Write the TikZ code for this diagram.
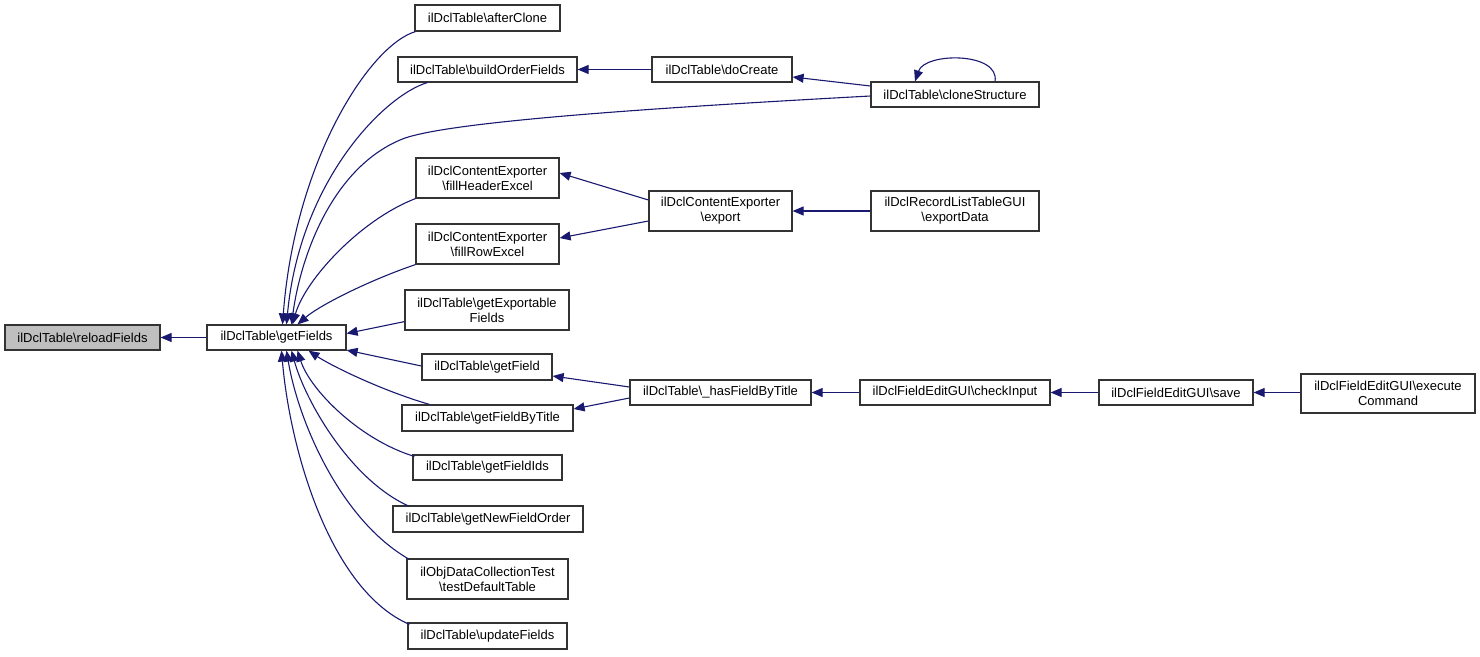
\documentclass[tikz,border=0pt]{standalone}
\usepackage{fontspec}
\setmainfont{Liberation Sans}
\usetikzlibrary{arrows.meta}
\definecolor{edgecol}{HTML}{191970}
\definecolor{hl}{HTML}{BFBFBF}
\begin{document}
\begin{tikzpicture}[x=1pt,y=-1pt,
  nbox/.style={draw=black!80,line width=1.2pt,inner sep=0pt,align=center,
    font=\fontsize{13}{15}\selectfont},
  edge/.style={draw=edgecol,line width=1.1pt,-{Triangle[length=11pt,width=9pt]}}]
\useasboundingbox (0,0) rectangle (1480,656);
\node[nbox,fill=hl,minimum width=155,minimum height=25] (reload) at (82.5,337.5) {ilDclTable\textbackslash reloadFields};
\node[nbox,minimum width=139,minimum height=25] (getFields) at (276.5,337.5) {ilDclTable\textbackslash getFields};
\node[nbox,minimum width=145,minimum height=26] (afterClone) at (487.5,18) {ilDclTable\textbackslash afterClone};
\node[nbox,minimum width=179,minimum height=25] (buildOrder) at (487.5,69.5) {ilDclTable\textbackslash buildOrderFields};
\node[nbox,minimum width=140,minimum height=25] (doCreate) at (722,69.5) {ilDclTable\textbackslash doCreate};
\node[nbox,minimum width=168,minimum height=25] (clone) at (955,94.5) {ilDclTable\textbackslash cloneStructure};
\node[nbox,minimum width=143,minimum height=40] (fillHeader) at (487.5,178) {ilDclContentExporter\\\textbackslash fillHeaderExcel};
\node[nbox,minimum width=143,minimum height=40] (export) at (720.5,211) {ilDclContentExporter\\\textbackslash export};
\node[nbox,minimum width=168,minimum height=40] (exportData) at (955,211) {ilDclRecordListTableGUI\\\textbackslash exportData};
\node[nbox,minimum width=143,minimum height=40] (fillRow) at (487.5,244) {ilDclContentExporter\\\textbackslash fillRowExcel};
\node[nbox,minimum width=164,minimum height=40] (exportable) at (487,310) {ilDclTable\textbackslash getExportable\\Fields};
\node[nbox,minimum width=130,minimum height=26] (getField) at (487,367) {ilDclTable\textbackslash getField};
\node[nbox,minimum width=181,minimum height=25] (hasField) at (720.5,392.5) {ilDclTable\textbackslash \_hasFieldByTitle};
\node[nbox,minimum width=190,minimum height=25] (checkInput) at (955,392.5) {ilDclFieldEditGUI\textbackslash checkInput};
\node[nbox,minimum width=154,minimum height=25] (save) at (1176,392.5) {ilDclFieldEditGUI\textbackslash save};
\node[nbox,minimum width=174,minimum height=39] (execute) at (1388,393.5) {ilDclFieldEditGUI\textbackslash execute\\Command};
\node[nbox,minimum width=171,minimum height=26] (byTitle) at (487.5,418) {ilDclTable\textbackslash getFieldByTitle};
\node[nbox,minimum width=149,minimum height=25] (fieldIds) at (487.5,467.5) {ilDclTable\textbackslash getFieldIds};
\node[nbox,minimum width=190,minimum height=26] (newOrder) at (488,519) {ilDclTable\textbackslash getNewFieldOrder};
\node[nbox,minimum width=161,minimum height=40] (testDefault) at (487.5,579) {ilObjDataCollectionTest\\\textbackslash testDefaultTable};
\node[nbox,minimum width=159,minimum height=26] (update) at (487.5,636) {ilDclTable\textbackslash updateFields};

% edges into getFields
\draw[edge] ([xshift=1]afterClone.south west) .. controls (370,45) and (295,160) .. ([xshift=6]getFields.north);
\draw[edge] ([xshift=30]buildOrder.south west) .. controls (385,95) and (300,180) .. ([xshift=10]getFields.north);
\draw[edge] ([yshift=-1.5]clone.west) .. controls (650,108) and (440,122) .. (400,140) .. controls (330,170) and (300,260) .. ([xshift=15]getFields.north);
\draw[edge] (fillHeader.south west) .. controls (360,220) and (305,280) .. ([xshift=16]getFields.north);
\draw[edge] (fillRow.south west) .. controls (370,280) and (320,305) .. ([xshift=21]getFields.north);
\draw[edge] ([yshift=9]exportable.south west) -- ([yshift=4]getFields.east);
\draw[edge] ([yshift=1]getField.west) -- ([yshift=0.5]getFields.south east);
\draw[edge] ([xshift=28]byTitle.north west) .. controls (380,390) and (330,365) .. ([xshift=32]getFields.south);
\draw[edge] ([xshift=2,yshift=-2]fieldIds.north west) .. controls (360,440) and (310,390) .. ([xshift=21]getFields.south);
\draw[edge] ([xshift=17,yshift=-1]newOrder.north west) .. controls (350,480) and (305,400) .. ([xshift=15]getFields.south);
\draw[edge] ([xshift=3,yshift=-1]testDefault.north west) .. controls (340,520) and (298,420) .. ([xshift=10]getFields.south);
\draw[edge] ([xshift=2,yshift=-2]update.north west) .. controls (330,590) and (290,450) .. ([xshift=5]getFields.south);
\draw[edge] (getFields.west) -- (reload.east);
% other edges
\draw[edge] (doCreate.west) -- (buildOrder.east);
\draw[edge] ([yshift=8.5]clone.west) -- ([yshift=-7.5]doCreate.east);
\draw[edge] ([xshift=40]clone.north) .. controls (1000,52) and (925,52) .. ([xshift=-40]clone.north);
\draw[edge] ([yshift=11]export.west) -- ([yshift=5]fillHeader.east);
\draw[edge] ([yshift=-10]export.west) -- ([yshift=6]fillRow.east);
\draw[edge] (exportData.west) -- (export.east);
\draw[edge] ([yshift=5.5]hasField.west) -- ([yshift=-9]getField.east);
\draw[edge] ([yshift=-5.5]hasField.west) -- ([yshift=9]byTitle.east);
\draw[edge] (checkInput.west) -- (hasField.east);
\draw[edge] (save.west) -- (checkInput.east);
\draw[edge] ([yshift=1]execute.west) -- (save.east);
\end{tikzpicture}
\end{document}
